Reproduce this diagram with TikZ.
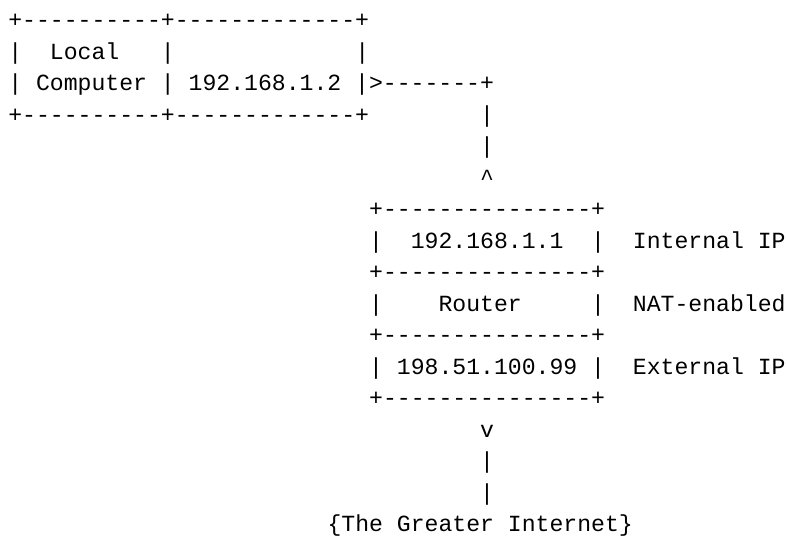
\documentclass[tikz,border=0pt]{standalone}
\usepackage{fontspec}
\setmonofont{Liberation Mono}
\begin{document}
\begin{tikzpicture}[x=13.88pt,y=-31.5pt]
        \tikzstyle{ascii}=[inner sep=0pt, anchor=base west, font=\ttfamily\fontsize{23.13pt}{31.5pt}\selectfont]
        \useasboundingbox (-0.581,-0.873) rectangle (56.119,16.365);
        % local computer box
        \node[ascii] (pctop) at (0,0) {+----------+-------------+};
        \node[ascii] (pcname) at (0,1) {|~~Local~~~|~~~~~~~~~~~~~|};
        \node[ascii] (pcip) at (0,2) {|~Computer~|~192.168.1.2~|>-------+};
        \node[ascii] (pcbot) at (0,3) {+----------+-------------+~~~~~~~~|};
        % link down to the router
        \node[ascii] (uplink) at (34,4) {|};
        \node[ascii] (uptip) at (34,5) {\textasciicircum};
        % router box
        \node[ascii] (rttop) at (26,6) {+---------------+};
        \node[ascii] (rtin) at (26,7) {|~~192.168.1.1~~|};
        \node[ascii] (rtsep1) at (26,8) {+---------------+};
        \node[ascii] (rtname) at (26,9) {|~~~~Router~~~~~|};
        \node[ascii] (rtsep2) at (26,10) {+---------------+};
        \node[ascii] (rtout) at (26,11) {|~198.51.100.99~|};
        \node[ascii] (rtbot) at (26,12) {+---------------+};
        \node[ascii] (inlabel) at (45,7) {Internal~IP};
        \node[ascii] (natlabel) at (45,9) {NAT-enabled};
        \node[ascii] (outlabel) at (45,11) {External~IP};
        % link out to the internet
        \node[ascii] (downtip) at (34,13) {v};
        \node[ascii] (downlink1) at (34,14) {|};
        \node[ascii] (downlink2) at (34,15) {|};
        \node[ascii] (internet) at (23,16) {\{The~Greater~Internet\}};
    \end{tikzpicture}
\end{document}
